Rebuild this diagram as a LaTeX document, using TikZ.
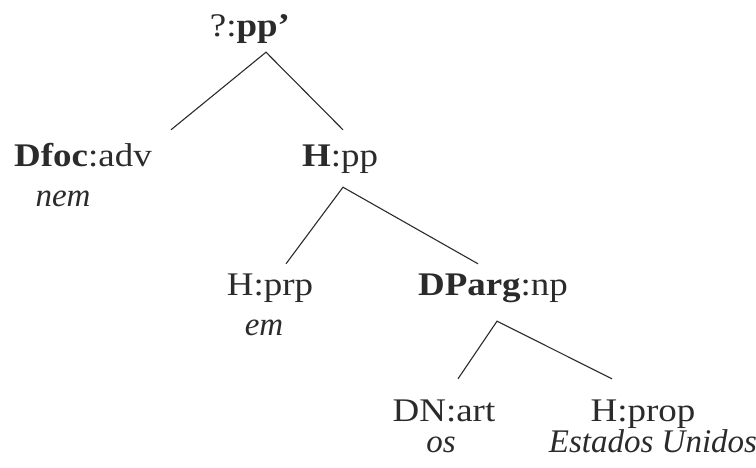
\documentclass[tikz,border=0pt]{standalone}
\usepackage{fontspec}
\setmainfont[FakeStretch=1.12]{Liberation Serif}
\newfontfamily\wordfont{Liberation Serif}
\usetikzlibrary{positioning, calc}
\definecolor{ink}{HTML}{2B2B2B}

\begin{document}
\begin{tikzpicture}[x=1pt, y=-1pt, every node/.style={font=\fontsize{33}{33}\selectfont, text=ink, inner sep=0pt, anchor=base},
  cat/.style={text height=24pt, text depth=8pt},
  word/.style={font=\fontsize{33}{33}\selectfont\wordfont\itshape},
  branch/.style={draw=ink, line width=1.1pt}]
\useasboundingbox (0,0) rectangle (756,468);
% Category labels
\node[cat] (root) at (250,37) {?:\textbf{pp'}};
\node[cat] (dfoc) at (83,167) {\textbf{Dfoc}:adv};
\node[cat] (hpp) at (340,167) {\textbf{H}:pp};
\node[cat] (hprp) at (270,295) {H:prp};
\node[cat] (dparg) at (493,295) {\textbf{DParg}:np};
\node[cat] (dnart) at (444,421) {DN:art};
\node[cat] (hprop) at (643,421) {H:prop};
% Word forms
\foreach \name/\x/\y/\form in {nem/63/207/nem, em/264/335/em, os/441/452/os, eu/653/452/Estados Unidos} {
  \node[word] (\name) at (\x,\y) {\form};
}
% Branches
\draw[branch] ([shift={(88,-13)}]dfoc.north) -- ([shift={(16,7)}]root.south) -- ([shift={(3,-13)}]hpp.north);
\draw[branch] ([shift={(16,-7)}]hprp.north) -- ([shift={(3,12)}]hpp.south) -- ([shift={(-15,-7)}]dparg.north);
\draw[branch] ([shift={(14,-18)}]dnart.north) -- ([shift={(4,18)}]dparg.south) -- ([shift={(-31,-18)}]hprop.north);
\end{tikzpicture}
\end{document}
